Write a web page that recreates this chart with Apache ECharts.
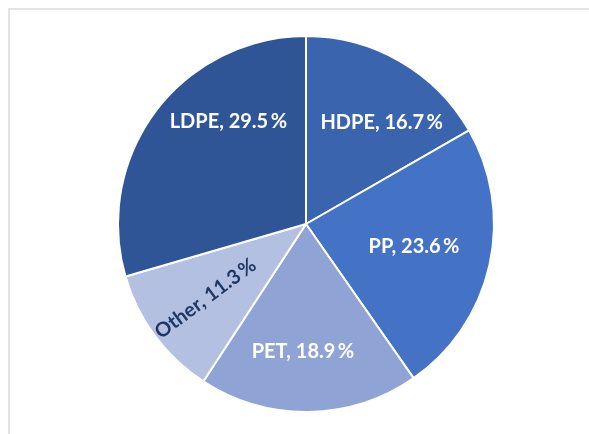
<!DOCTYPE html>
<html>
<head>
<meta charset="utf-8">
<script src="https://cdn.jsdelivr.net/npm/echarts@6/dist/echarts.min.js"></script>
<style>
  html, body { margin: 0; padding: 0; background: #fff; }
  #frame {
    position: absolute; left: 8px; top: 8px; width: 600px; height: 440px;
    border-left: 2px solid #e3e3e3; border-top: 2px solid #e3e3e3;
  }
  #chart { position: absolute; left: 0; top: 0; width: 589px; height: 434px; }
</style>
</head>
<body>
<div id="frame"></div>
<div id="chart"></div>
<script>
const categories = ['HDPE', 'PP', 'PET', 'Other', 'LDPE'];
const shares = [16.7, 23.6, 18.9, 11.3, 29.5];
const sliceColors = ['#3a65ae', '#4472c4', '#8fa4d5', '#b4c0e2', '#2f5597'];
const labelColors = ['#fff', '#fff', '#fff', '#1f3864', '#fff'];
// small nudges so labels sit where the original put them
const labelNudge = [[12, 9], [-16, -5], [-5, 0], [2, 0], [24, -26]];

const chart = echarts.init(document.getElementById('chart'));

const center = [306, 224];
const radius = 188;

const pieData = categories.map((name, i) => ({
    name: name,
    value: shares[i],
    itemStyle: { color: sliceColors[i] }
}));

// labels sit further out than ECharts' default inside spot, so they
// go on a transparent, bigger copy of the pie
const labelData = categories.map((name, i) => ({
    name: name,
    value: shares[i],
    label: {
        color: labelColors[i],
        rotate: name === 'Other' ? 'radial' : 0,
        offset: labelNudge[i]
    }
}));

const option = {
    animation: false,
    series: [
        {
            type: 'pie',
            center: center,
            radius: [0, radius],
            startAngle: 90,
            clockwise: true,
            silent: true,
            label: { show: false },
            labelLine: { show: false },
            itemStyle: { borderColor: '#fff', borderWidth: 2 },
            data: pieData
        },
        {
            type: 'pie',
            center: center,
            radius: [0, radius * 1.32],
            startAngle: 90,
            clockwise: true,
            silent: true,
            itemStyle: { color: 'rgba(0,0,0,0)' },
            label: {
                show: true,
                position: 'inside',
                fontFamily: 'Lato',
                fontWeight: 'bold',
                fontSize: 20,
                formatter: function (p) {
                    return p.name + ', ' + p.value.toFixed(1) + '\u2009%';
                }
            },
            labelLine: { show: false },
            data: labelData
        }
    ]
};

chart.setOption(option);
</script>
</body>
</html>
